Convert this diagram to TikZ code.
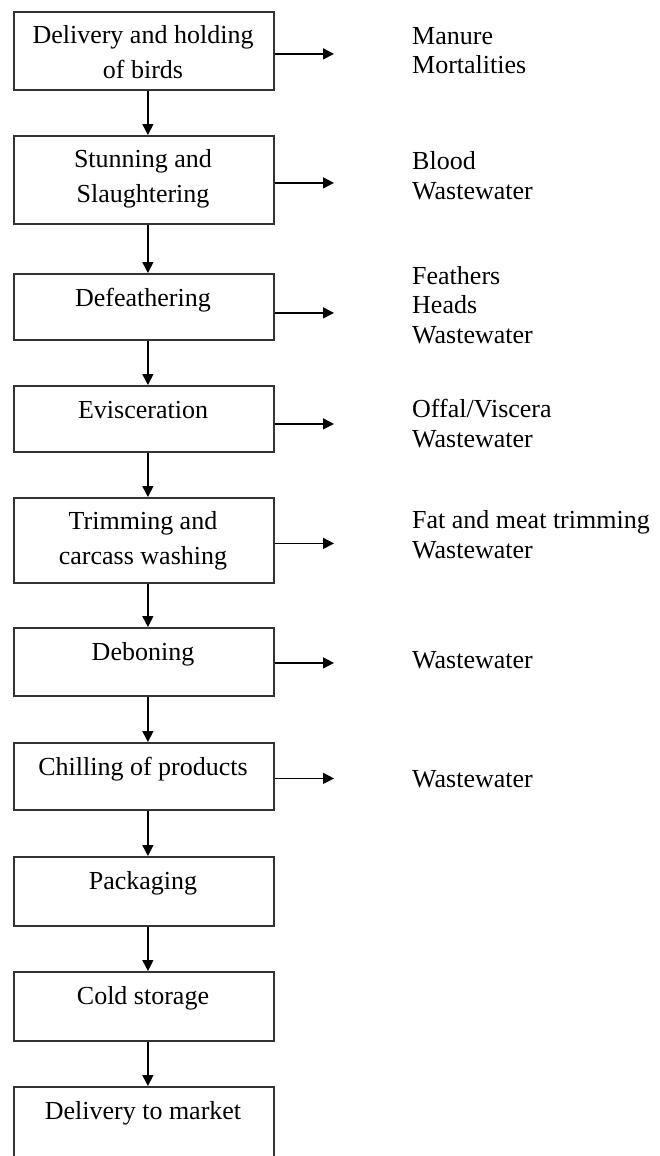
\documentclass[tikz,border=0pt]{standalone}
\usepackage{fontspec}
\setmainfont{Liberation Serif}
\usetikzlibrary{arrows.meta}

\tikzset{
  stage/.style={draw=black!80, line width=1.8pt, minimum width=260pt, anchor=north west, inner sep=0pt},
  stagetext/.style={anchor=base, align=center, inner sep=0pt, font=\fontsize{26}{35}\selectfont},
  waste/.style={anchor=base west, align=left, inner sep=0pt, font=\fontsize{26}{29.5}\selectfont},
  flow/.style={line width=1.6pt, -{Triangle[length=11pt,width=11pt]}}
}

\begin{document}
\begin{tikzpicture}[x=1pt,y=1pt]

\clip (0,0) rectangle (660,-1156);

% Process boxes
\node[stage, minimum height=78pt] (deliv) at (13,-11) {};
\node[stage, minimum height=88pt] (stun) at (13,-135) {};
\node[stage, minimum height=66pt] (defeath) at (13,-273) {};
\node[stage, minimum height=66pt] (evisc) at (13,-385) {};
\node[stage, minimum height=85pt] (trim) at (13,-497) {};
\node[stage, minimum height=68pt] (debone) at (13,-627) {};
\node[stage, minimum height=67pt] (chill) at (13,-742) {};
\node[stage, minimum height=69pt] (pack) at (13,-856) {};
\node[stage, minimum height=69pt] (cold) at (13,-971) {};
\node[stage, minimum height=90pt] (market) at (13,-1086) {};

% Box texts (base = last line)
\node[stagetext] (deliv-t) at (143,-78) {Delivery and holding\\of birds};
\node[stagetext] (stun-t) at (143,-202) {Stunning and\\Slaughtering};
\node[stagetext] (defeath-t) at (143,-306) {Defeathering};
\node[stagetext] (evisc-t) at (143,-418) {Evisceration};
\node[stagetext] (trim-t) at (143,-564) {Trimming and\\carcass washing};
\node[stagetext] (debone-t) at (143,-660) {Deboning};
\node[stagetext] (chill-t) at (143,-775) {Chilling of products};
\node[stagetext] (pack-t) at (143,-889) {Packaging};
\node[stagetext] (cold-t) at (143,-1004) {Cold storage};
\node[stagetext] (market-t) at (143,-1119) {Delivery to market};

% Main flow
\draw[flow] ([xshift=4pt]deliv.south) -- ([xshift=4pt]stun.north);
\draw[flow] ([xshift=4pt]stun.south) -- ([xshift=4pt]defeath.north);
\draw[flow] ([xshift=4pt]defeath.south) -- ([xshift=4pt]evisc.north);
\draw[flow] ([xshift=4pt]evisc.south) -- ([xshift=4pt]trim.north);
\draw[flow] ([xshift=4pt]trim.south) -- ([xshift=4pt]debone.north);
\draw[flow] ([xshift=4pt]debone.south) -- ([xshift=4pt]chill.north);
\draw[flow] ([xshift=4pt]chill.south) -- ([xshift=4pt]pack.north);
\draw[flow] ([xshift=4pt]pack.south) -- ([xshift=4pt]cold.north);
\draw[flow] ([xshift=4pt]cold.south) -- ([xshift=4pt]market.north);

% Outputs
\coordinate (tip) at (334,0);
\draw[flow] ([yshift=-3pt]deliv.east) -- ([yshift=-3pt]deliv.east -| tip);
\draw[flow] ([yshift=-3pt]stun.east) -- ([yshift=-3pt]stun.east -| tip);
\draw[flow] ([yshift=-6pt]defeath.east) -- ([yshift=-6pt]defeath.east -| tip);
\draw[flow] ([yshift=-5pt]evisc.east) -- ([yshift=-5pt]evisc.east -| tip);
\draw[flow] ([yshift=-3pt]trim.east) -- ([yshift=-3pt]trim.east -| tip);
\draw[flow] ([yshift=-1pt]debone.east) -- ([yshift=-1pt]debone.east -| tip);
\draw[flow] ([yshift=-2pt]chill.east) -- ([yshift=-2pt]chill.east -| tip);

\node[waste] (w-deliv) at (412,-74) {Manure\\Mortalities};
\node[waste] (w-stun) at (412,-199) {Blood\\Wastewater};
\node[waste] (w-defeath) at (412,-343) {Feathers\\Heads\\Wastewater};
\node[waste] (w-evisc) at (412,-447) {Offal/Viscera\\Wastewater};
\node[waste] (w-trim) at (412,-558) {Fat and meat trimming\\Wastewater};
\node[waste] (w-debone) at (412,-668) {Wastewater};
\node[waste] (w-chill) at (412,-787) {Wastewater};

\end{tikzpicture}
\end{document}
